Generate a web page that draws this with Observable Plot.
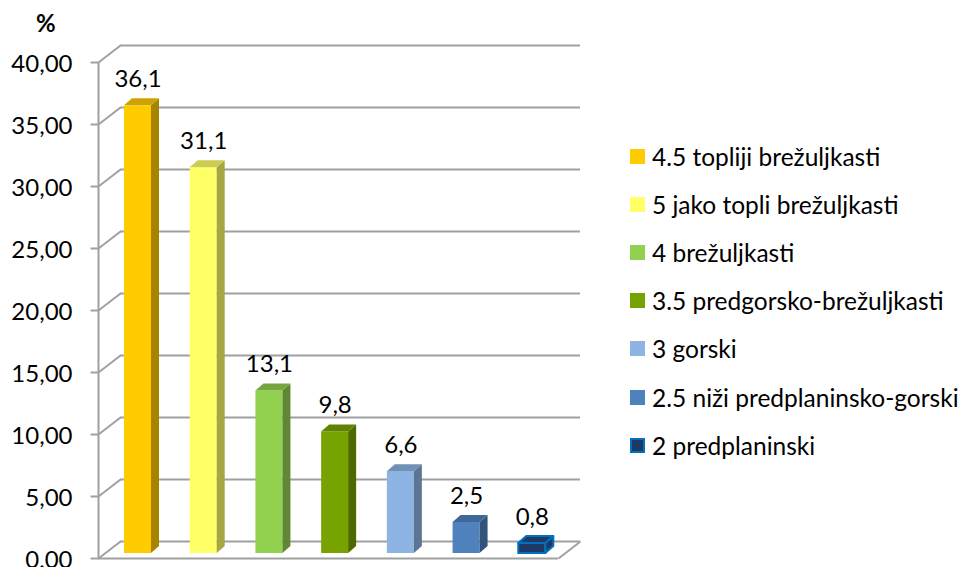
<!DOCTYPE html>
<html>
<head>
<meta charset="utf-8">
<script src="https://cdn.jsdelivr.net/npm/d3@7"></script>
<script src="https://cdn.jsdelivr.net/npm/@observablehq/plot@0.6"></script>
<style>
  html, body { margin: 0; padding: 0; background: #fff; }
  #wrap { position: relative; width: 962px; height: 567px; font-family: Lato, "Open Sans", sans-serif; color: #000; }
  #wrap svg { position: absolute; left: 0; top: 0; }
  #unit { position: absolute; left: 36px; top: 8px; font-size: 24px; font-weight: bold; }
  #legend { position: absolute; left: 630px; top: 132px; }
  .row { display: flex; align-items: center; height: 48.2px; font-size: 24.5px; white-space: nowrap; }
  .sw { width: 15px; height: 15px; margin-right: 7px; box-sizing: border-box; }
</style>
</head>
<body>
<div id="wrap">
  <div id="unit">%</div>
  <div id="legend"></div>
</div>
<script>
// ---- data ----
const categories = [
  "4.5 topliji brežuljkasti",
  "5 jako topli brežuljkasti",
  "4 brežuljkasti",
  "3.5 predgorsko-brežuljkasti",
  "3 gorski",
  "2.5 niži predplaninsko-gorski",
  "2 predplaninski"
];
const values = [36.1, 31.1, 13.1, 9.8, 6.6, 2.5, 0.8];
const yTicks = [0, 5, 10, 15, 20, 25, 30, 35, 40];
const yTickLabels = ["0,00", "5,00", "10,00", "15,00", "20,00", "25,00", "30,00", "35,00", "40,00"];

// ---- palette ----
const frontColors = ["#FFCC00", "#FFFF66", "#92D050", "#77A300", "#8DB4E2", "#4F81BD", "#1F3864"];
const topColors   = ["#CCA300", "#CCCC52", "#75A640", "#5F8200", "#7190B5", "#3F6797", "#1F3864"];
const sideColors  = ["#A68400", "#A6A642", "#5F8734", "#4D6A00", "#5C7593", "#33547B", "#1F3864"];
const strokeColors = [null, null, null, null, null, null, "#0070C0"];
const gridColor = "#A0A0A0";

// ---- layout ----
const W = 962, H = 567;
const ML = 98, MR = 404, MT = 62, MB = 9;
const kx = categories.length / (W - ML - MR); // data units per px (x)
const ky = 40 / (H - MT - MB);                // data units per px (y)
const wallX = 22 * kx, wallY = 17 * ky;       // back-wall depth
const faceOff = 26 * kx, faceW = 27 * kx;     // bar front face within slot
const baseY = 5 * ky;                          // bar base above front floor edge
const depX = 8 * kx, depY = 7 * ky;           // bar extrusion
const nSlots = categories.length;

const bars = categories.map((c, i) => ({
  c, i, v: values[i],
  xl: i + faceOff, xr: i + faceOff + faceW,
  y0: baseY, y1: baseY + values[i]
}));
const sidePts = bars.flatMap(b => [
  {i: b.i, x: b.xr, y1: b.y0, y2: b.y1},
  {i: b.i, x: b.xr + depX, y1: b.y0 + depY, y2: b.y1 + depY}
]);
const topPts = bars.flatMap(b => [
  {i: b.i, y: b.y1, x1: b.xl, x2: b.xr},
  {i: b.i, y: b.y1 + depY, x1: b.xl + depX, x2: b.xr + depX}
]);
const fmt = v => v.toFixed(1).replace(".", ",");
const sk = i => strokeColors[i] || "none";

const plot = Plot.plot({
  width: W, height: H,
  marginLeft: ML, marginRight: MR, marginTop: MT, marginBottom: MB,
  x: {domain: [0, nSlots], axis: null},
  y: {domain: [0, 40], axis: null},
  color: {type: "identity"},
  style: {fontFamily: "Lato, 'Open Sans', sans-serif", fontSize: "24px", color: "#000", background: "transparent"},
  marks: [
    // back wall gridlines
    Plot.ruleY(yTicks, {y: d => d + wallY, x1: wallX, x2: nSlots + wallX, stroke: gridColor, strokeWidth: 2}),
    // left wall diagonals
    Plot.link(yTicks, {x1: 0, y1: d => d, x2: wallX, y2: d => d + wallY, stroke: gridColor, strokeWidth: 2}),
    // front vertical axis
    Plot.ruleX([0], {y1: 0, y2: 40, stroke: gridColor, strokeWidth: 2}),
    // tick marks
    Plot.link(yTicks, {x1: -8 * kx, x2: 0, y1: d => d, y2: d => d, stroke: gridColor, strokeWidth: 2}),
    // floor front edge + right diagonal
    Plot.ruleY([0], {x1: 0, x2: nSlots, stroke: gridColor, strokeWidth: 2}),
    Plot.link([0], {x1: nSlots, y1: 0, x2: nSlots + wallX, y2: wallY, stroke: gridColor, strokeWidth: 2}),
    // tick labels
    Plot.text(yTicks, {x: 0, y: d => d, text: (d, i) => yTickLabels[i], textAnchor: "end", dx: -26, dy: 2, fill: "#000"}),
    // bars: front, side, top
    Plot.rect(bars, {x1: "xl", x2: "xr", y1: "y0", y2: "y1", fill: d => frontColors[d.i], stroke: d => sk(d.i), strokeWidth: 2}),
    Plot.areaY(sidePts, {x: "x", y1: "y1", y2: "y2", z: "i", fill: d => sideColors[d.i], stroke: d => sk(d.i), strokeWidth: 2}),
    Plot.areaX(topPts, {y: "y", x1: "x1", x2: "x2", z: "i", fill: d => topColors[d.i], stroke: d => sk(d.i), strokeWidth: 2}),
    // value labels
    Plot.text(bars, {x: d => (d.xl + d.xr) / 2, y: d => d.y1 + depY, text: d => fmt(d.v), lineAnchor: "bottom", dy: -12, fill: "#000"})
  ]
});
document.getElementById("wrap").appendChild(plot);

// legend
const legend = d3.select("#legend");
categories.forEach((c, i) => {
  const row = legend.append("div").attr("class", "row");
  row.append("div").attr("class", "sw")
    .style("background", frontColors[i])
    .style("border", strokeColors[i] ? `2px solid ${strokeColors[i]}` : "none");
  row.append("span").text(c);
});
</script>
</body>
</html>
